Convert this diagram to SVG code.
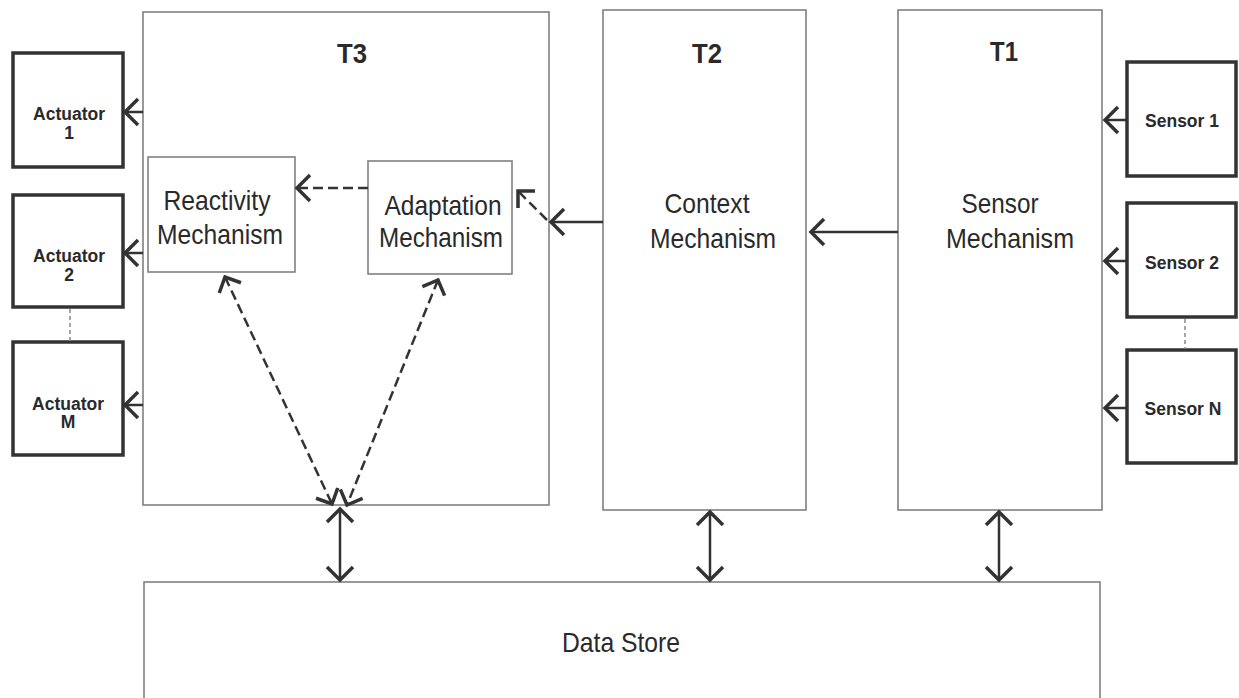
<svg xmlns="http://www.w3.org/2000/svg" width="1239" height="698" viewBox="0 0 1239 698">
<style>
.tier{fill:#fff;stroke:#808080;stroke-width:1.6}
.dev{fill:#fff;stroke:#333;stroke-width:3.5}
.inner{fill:#fff;stroke:#808080;stroke-width:1.6}
.lbl{font-family:"Liberation Sans",Arial,sans-serif;fill:#2a2a2a;text-anchor:middle}
.big{font-size:28px}
.tt{font-size:27px;font-weight:bold}
.dev-t{font-size:17.5px;font-weight:bold}
.conn{fill:none;stroke:#333;stroke-width:2.5}
.dash{stroke-dasharray:10 5}
.dots{fill:none;stroke:#888;stroke-width:1.5;stroke-dasharray:4 3}
</style>
<defs>
<marker id="ah" markerUnits="userSpaceOnUse" markerWidth="40" markerHeight="40" refX="0" refY="0" orient="auto-start-reverse" overflow="visible" viewBox="-20 -20 40 40">
<path d="M-13,-13 L0,0 L-13,13" fill="none" stroke="#333" stroke-width="3.5" stroke-dasharray="none" stroke-linejoin="miter"/>
</marker>
<marker id="ahs" markerUnits="userSpaceOnUse" markerWidth="40" markerHeight="40" refX="0" refY="0" orient="auto-start-reverse" overflow="visible" viewBox="-20 -20 40 40">
<path d="M-12,-12 L0,0 L-12,12" fill="none" stroke="#333" stroke-width="3.5" stroke-dasharray="none"/>
</marker>
</defs>

<g id="t3">
<rect class="tier" x="143" y="12" width="406" height="493"/>
<text class="lbl tt" x="352" y="63" textLength="30" lengthAdjust="spacingAndGlyphs">T3</text>
</g>
<g id="t2">
<rect class="tier" x="603" y="10" width="203" height="500"/>
<text class="lbl tt" x="707" y="63" textLength="30" lengthAdjust="spacingAndGlyphs">T2</text>
<text class="lbl big" x="707" y="213" textLength="85" lengthAdjust="spacingAndGlyphs">Context</text>
<text class="lbl big" x="713" y="248" textLength="126" lengthAdjust="spacingAndGlyphs">Mechanism</text>
</g>
<g id="t1">
<rect class="tier" x="898" y="10" width="204" height="500"/>
<text class="lbl tt" x="1004" y="61" textLength="28" lengthAdjust="spacingAndGlyphs">T1</text>
<text class="lbl big" x="1000" y="213" textLength="77" lengthAdjust="spacingAndGlyphs">Sensor</text>
<text class="lbl big" x="1010" y="248" textLength="128" lengthAdjust="spacingAndGlyphs">Mechanism</text>
</g>
<g id="reactivity">
<rect class="inner" x="148" y="157" width="147" height="115"/>
<text class="lbl big" x="217" y="210" textLength="107" lengthAdjust="spacingAndGlyphs">Reactivity</text>
<text class="lbl big" x="220" y="244" textLength="126" lengthAdjust="spacingAndGlyphs">Mechanism</text>
</g>
<g id="adaptation">
<rect class="inner" x="368" y="161" width="144" height="113"/>
<text class="lbl big" x="443" y="215" textLength="117" lengthAdjust="spacingAndGlyphs">Adaptation</text>
<text class="lbl big" x="441" y="247" textLength="124" lengthAdjust="spacingAndGlyphs">Mechanism</text>
</g>
<g id="datastore">
<rect class="tier" x="144" y="582" width="956" height="130"/>
<text class="lbl big" x="621" y="652" textLength="118" lengthAdjust="spacingAndGlyphs">Data Store</text>
</g>
<g id="actuator1">
<rect class="dev" x="13" y="53" width="110" height="114"/>
<text class="lbl dev-t" x="69" y="120">Actuator</text>
<text class="lbl dev-t" x="69" y="139">1</text>
</g>
<g id="actuator2">
<rect class="dev" x="13" y="195" width="110" height="112"/>
<text class="lbl dev-t" x="69" y="262">Actuator</text>
<text class="lbl dev-t" x="69" y="281">2</text>
</g>
<g id="actuatorM">
<rect class="dev" x="13" y="342" width="110" height="113"/>
<text class="lbl dev-t" x="68" y="410">Actuator</text>
<text class="lbl dev-t" x="68" y="428">M</text>
</g>
<g id="sensor1">
<rect class="dev" x="1127" y="62" width="109" height="114"/>
<text class="lbl dev-t" x="1182" y="127">Sensor 1</text>
</g>
<g id="sensor2">
<rect class="dev" x="1127" y="203" width="109" height="114"/>
<text class="lbl dev-t" x="1182" y="269">Sensor 2</text>
</g>
<g id="sensorN">
<rect class="dev" x="1127" y="350" width="109" height="113"/>
<text class="lbl dev-t" x="1183" y="415">Sensor N</text>
</g>

<g id="connectors">
<line class="dots" x1="70" y1="309" x2="70" y2="341"/>
<line class="dots" x1="1185" y1="319" x2="1185" y2="349"/>
<line class="conn" x1="143" y1="112" x2="125" y2="112" marker-end="url(#ah)"/>
<line class="conn" x1="143" y1="253" x2="125" y2="253" marker-end="url(#ah)"/>
<line class="conn" x1="143" y1="405" x2="125" y2="405" marker-end="url(#ah)"/>
<line class="conn" x1="1127" y1="120" x2="1105" y2="120" marker-end="url(#ah)"/>
<line class="conn" x1="1127" y1="261" x2="1105" y2="261" marker-end="url(#ah)"/>
<line class="conn" x1="1127" y1="408" x2="1105" y2="408" marker-end="url(#ah)"/>
<line class="conn" x1="898" y1="232" x2="811" y2="232" marker-end="url(#ah)"/>
<line class="conn" x1="603" y1="222" x2="551" y2="222" marker-end="url(#ah)"/>
<line class="conn dash" x1="547" y1="220" x2="518" y2="191" marker-end="url(#ahs)"/>
<line class="conn dash" x1="368" y1="188" x2="297" y2="188" marker-end="url(#ah)"/>
<line class="conn dash" x1="225" y1="277" x2="332" y2="504" marker-start="url(#ahs)" marker-end="url(#ahs)"/>
<line class="conn dash" x1="438" y1="280" x2="347" y2="505" marker-start="url(#ahs)" marker-end="url(#ahs)"/>
<line class="conn" x1="340" y1="509" x2="340" y2="580" marker-start="url(#ah)" marker-end="url(#ah)"/>
<line class="conn" x1="710" y1="512" x2="710" y2="580" marker-start="url(#ah)" marker-end="url(#ah)"/>
<line class="conn" x1="999" y1="512" x2="999" y2="580" marker-start="url(#ah)" marker-end="url(#ah)"/>
</g>
</svg>
